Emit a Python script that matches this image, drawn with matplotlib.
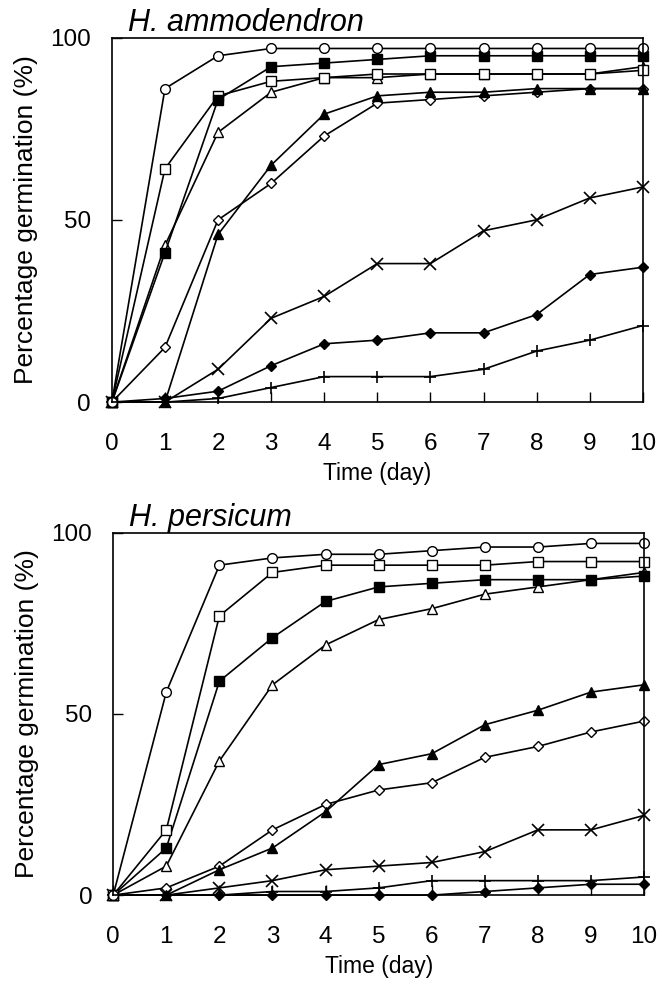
import matplotlib
matplotlib.use("Agg")
import matplotlib.pyplot as plt

days = list(range(0, 11))

# H. ammodendron
amm_open_circle = [0, 86, 95, 97, 97, 97, 97, 97, 97, 97, 97]
amm_filled_square = [0, 41, 83, 92, 93, 94, 95, 95, 95, 95, 95]
amm_open_square = [0, 64, 84, 88, 89, 90, 90, 90, 90, 90, 91]
amm_open_triangle = [0, 43, 74, 85, 89, 89, 90, 90, 90, 90, 92]
amm_filled_triangle = [0, 0, 46, 65, 79, 84, 85, 85, 86, 86, 86]
amm_open_diamond = [0, 15, 50, 60, 73, 82, 83, 84, 85, 86, 86]
amm_cross = [0, 0, 9, 23, 29, 38, 38, 47, 50, 56, 59]
amm_filled_diamond = [0, 1, 3, 10, 16, 17, 19, 19, 24, 35, 37]
amm_plus = [0, 0, 1, 4, 7, 7, 7, 9, 14, 17, 21]

# H. persicum
per_open_circle = [0, 56, 91, 93, 94, 94, 95, 96, 96, 97, 97]
per_open_square = [0, 18, 77, 89, 91, 91, 91, 91, 92, 92, 92]
per_filled_square = [0, 13, 59, 71, 81, 85, 86, 87, 87, 87, 88]
per_open_triangle = [0, 8, 37, 58, 69, 76, 79, 83, 85, 87, 89]
per_filled_triangle = [0, 0, 7, 13, 23, 36, 39, 47, 51, 56, 58]
per_open_diamond = [0, 2, 8, 18, 25, 29, 31, 38, 41, 45, 48]
per_cross = [0, 0, 2, 4, 7, 8, 9, 12, 18, 18, 22]
per_plus = [0, 0, 0, 1, 1, 2, 4, 4, 4, 4, 5]
per_filled_diamond = [0, 0, 0, 0, 0, 0, 0, 1, 2, 3, 3]

titles = ["H. ammodendron", "H. persicum"]
x_ticks = list(range(0, 11))
y_ticks = [0, 50, 100]

plt.rcParams['font.family'] = ['Liberation Sans', 'DejaVu Sans']

styles = {
    'open_circle': dict(marker='o', mfc='white', mec='black', ms=7),
    'filled_square': dict(marker='s', mfc='black', mec='black', ms=6.5),
    'open_square': dict(marker='s', mfc='white', mec='black', ms=7),
    'open_triangle': dict(marker='^', mfc='white', mec='black', ms=7),
    'filled_triangle': dict(marker='^', mfc='black', mec='black', ms=7),
    'open_diamond': dict(marker='D', mfc='white', mec='black', ms=5.5),
    'filled_diamond': dict(marker='D', mfc='black', mec='black', ms=5.5),
    'cross': dict(marker='x', mfc='black', mec='black', ms=8, mew=1.2),
    'plus': dict(marker='+', mfc='black', mec='black', ms=9, mew=1.2),
}

panels = [
    [('plus', amm_plus), ('filled_diamond', amm_filled_diamond), ('cross', amm_cross),
     ('open_diamond', amm_open_diamond), ('filled_triangle', amm_filled_triangle),
     ('open_triangle', amm_open_triangle), ('open_square', amm_open_square),
     ('filled_square', amm_filled_square), ('open_circle', amm_open_circle)],
    [('filled_diamond', per_filled_diamond), ('plus', per_plus), ('cross', per_cross),
     ('open_diamond', per_open_diamond), ('filled_triangle', per_filled_triangle),
     ('open_triangle', per_open_triangle), ('filled_square', per_filled_square),
     ('open_square', per_open_square), ('open_circle', per_open_circle)],
]

fig = plt.figure(figsize=(6.62, 9.88), dpi=100)
rects = [[0.169, 0.593, 0.802, 0.369], [0.171, 0.094, 0.802, 0.367]]

for i, (rect, series) in enumerate(zip(rects, panels)):
    ax = fig.add_axes(rect)
    for name, vals in series:
        st = dict(styles[name])
        mew = st.pop('mew', 1.0)
        ax.plot(days, vals, color='black', lw=1.2, mew=mew, clip_on=False, **st)
    ax.set_xlim(0, 10)
    ax.set_ylim(0, 100)
    ax.set_xticks(x_ticks)
    ax.set_yticks(y_ticks)
    ax.tick_params(direction='in', length=7, width=1, labelsize=17.5)
    ax.tick_params(axis='x', pad=22)
    ax.tick_params(axis='y', pad=15)
    for s in ax.spines.values():
        s.set_linewidth(1.2)
    ax.set_xlabel("Time (day)", fontsize=16.5, labelpad=5)
    ax.set_ylabel("Percentage germination (%)", fontsize=19, labelpad=9)
    ax.text(0.03, 1.0, titles[i], transform=ax.transAxes, fontsize=22,
            style='italic', va='bottom', ha='left')

fig.savefig("out.png", dpi=100)
